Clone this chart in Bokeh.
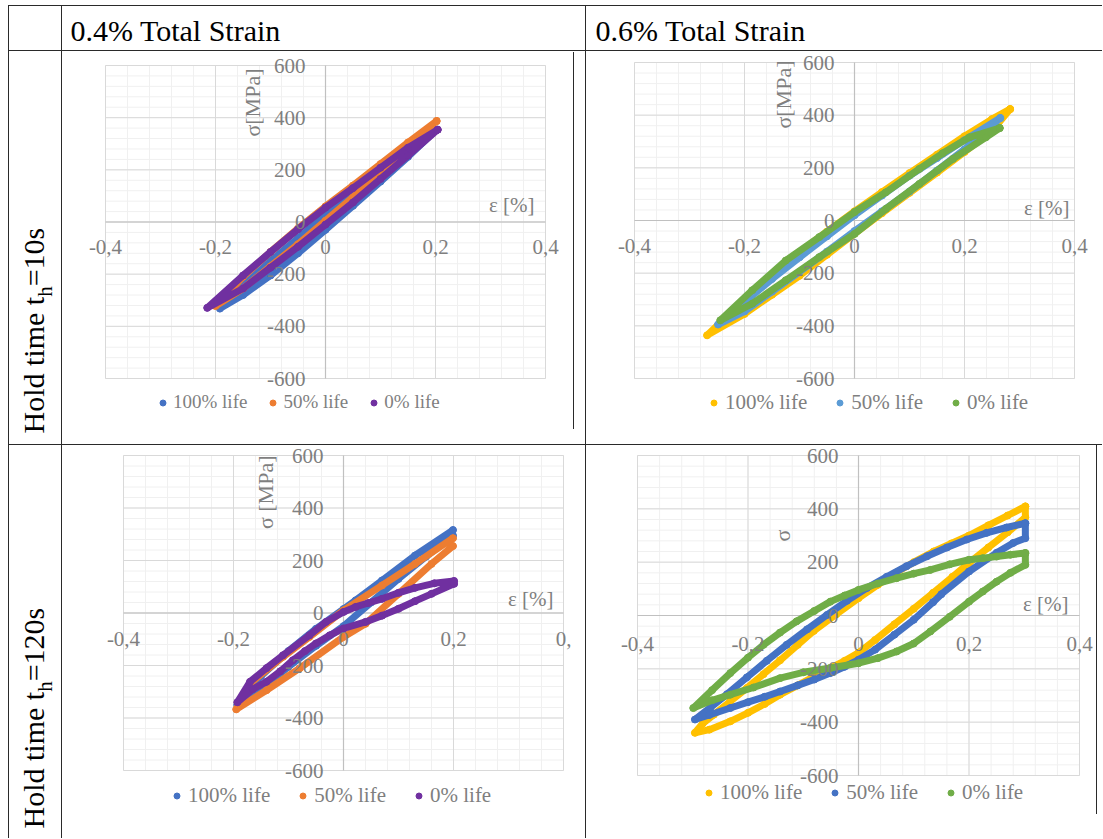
import math
from bokeh.plotting import figure
from bokeh.models import Range1d, Label, LabelSet, ColumnDataSource, Legend, LegendItem, Spacer
from bokeh.layouts import row, column
from bokeh.core.properties import value
from bokeh.embed import file_html
from bokeh.resources import INLINE

# ---------------- texts / tick labels ----------------
col_titles = ["0.4% Total Strain", "0.6% Total Strain"]
row_title_main = "Hold time t"
row_title_sub = "h"
row_title_ends = ["=10s", "=120s"]
series_names = ["100% life", "50% life", "0% life"]
x_ticks = [-0.4, -0.2, 0.0, 0.2, 0.4]
x_tick_labels = ["-0,4", "-0,2", "0", "0,2", "0,4"]
x_tick_labels_cut = ["-0,4", "-0,2", "0", "0,2", "0,"]
y_ticks = [600, 400, 200, 0, -200, -400, -600]
y_tick_labels = ["600", "400", "200", "0", "-200", "-400", "-600"]
x_minor = [round(-0.4 + 0.04 * k, 2) for k in range(21)]
y_minor = [-600 + 40 * k for k in range(31)]
x_title = "ε [%]"
y_titles = ["σ[MPa]", "σ[MPa]", "σ [MPa]", "σ"]

# ---------------- data (strain %, stress MPa) ----------------
# 0.4 % total strain, hold time 10 s
a_100_x = [0.200, 0.15, 0.10, 0.05, 0.00, -0.05, -0.10, -0.15, -0.192,
           -0.15, -0.10, -0.05, 0.00, 0.05, 0.10, 0.15, 0.200]
a_100_y = [350, 275, 195, 112, 25, -62, -150, -242, -332,
           -280, -205, -120, -30, 62, 155, 250, 350]
a_50_x = [0.202, 0.15, 0.10, 0.05, 0.00, -0.05, -0.10, -0.15, -0.200,
          -0.15, -0.10, -0.05, 0.00, 0.05, 0.10, 0.15, 0.202]
a_50_y = [387, 305, 222, 140, 60, -25, -115, -210, -322,
          -255, -170, -85, 5, 95, 190, 285, 387]
a_0_x = [0.204, 0.15, 0.10, 0.05, 0.00, -0.05, -0.10, -0.15, -0.215,
         -0.15, -0.10, -0.05, 0.00, 0.05, 0.10, 0.15, 0.204]
a_0_y = [354, 285, 208, 130, 55, -28, -115, -205, -329,
         -255, -175, -95, -10, 75, 165, 255, 354]

# 0.6 % total strain, hold time 10 s
b_100_x = [0.283, 0.25, 0.20, 0.15, 0.10, 0.05, 0.00, -0.05, -0.10, -0.15, -0.20, -0.268,
           -0.20, -0.15, -0.10, -0.05, 0.00, 0.05, 0.10, 0.15, 0.20, 0.25, 0.283]
b_100_y = [423, 385, 320, 250, 180, 108, 35, -42, -120, -205, -300, -436,
           -355, -282, -210, -130, -50, 28, 105, 182, 260, 340, 423]
b_50_x = [0.265, 0.20, 0.15, 0.10, 0.05, 0.00, -0.05, -0.10, -0.15, -0.20, -0.248,
          -0.20, -0.15, -0.10, -0.05, 0.00, 0.05, 0.10, 0.15, 0.20, 0.265]
b_50_y = [389, 305, 237, 170, 95, 20, -60, -140, -222, -310, -395,
          -345, -270, -195, -118, -40, 35, 110, 190, 270, 389]
b_0_x = [0.264, 0.209, 0.16, 0.118, 0.057, 0.00, -0.064, -0.125, -0.186, -0.244,
         -0.186, -0.125, -0.064, 0.00, 0.057, 0.118, 0.179, 0.239, 0.264]
b_0_y = [351, 316, 255, 196, 107, 32, -63, -152, -265, -379,
         -316, -227, -139, -51, 44, 139, 234, 316, 351]

# 0.4 % total strain, hold time 120 s
c_100_x = [0.199, 0.13, 0.07, 0.022, 0.00, -0.05, -0.10, -0.15, -0.193,
           -0.15, -0.10, -0.05, 0.00, 0.05, 0.10, 0.15, 0.199]
c_100_y = [316, 219, 124, 48, 15, -60, -145, -240, -350,
           -290, -205, -125, -50, 40, 130, 215, 295]
c_50_x = [0.199, 0.13, 0.07, 0.00, -0.062, -0.11, -0.17, -0.195,
          -0.14, -0.08, 0.00, 0.04, 0.10, 0.16, 0.199]
c_50_y = [285, 187, 105, 10, -91, -167, -268, -367,
          -294, -211, -91, -41, 73, 187, 255]
c_0_x = [0.201, 0.165, 0.13, 0.10, 0.07, 0.045, 0.022, 0.00, -0.032, -0.062, -0.11, -0.14,
         -0.17, -0.193, -0.165, -0.14, -0.115, -0.092, -0.07, -0.05, -0.025, 0.00, 0.04,
         0.07, 0.10, 0.13, 0.16, 0.201]
c_0_y = [122, 113, 96, 77, 54, 38, 23, 4, -34, -85, -161, -210,
         -262, -340, -290, -262, -222, -180, -145, -116, -85, -59, -34,
         -10, 16, 45, 73, 111]

# 0.6 % total strain, hold time 120 s
d_100_x = [0.302, 0.27, 0.235, 0.20, 0.168, 0.136, 0.10, 0.069, 0.035, 0.00, -0.04, -0.081,
           -0.11, -0.142, -0.172, -0.202, -0.232, -0.262, -0.282, -0.296,
           -0.27, -0.232, -0.20, -0.17, -0.142, -0.11, -0.08, -0.051, -0.025, 0.00, 0.03,
           0.065, 0.10, 0.135, 0.17, 0.20, 0.235, 0.27, 0.302, 0.302]
d_100_y = [409, 375, 338, 300, 270, 240, 200, 162, 115, 65, 5, -58,
           -110, -168, -220, -272, -322, -372, -405, -440,
           -428, -397, -365, -332, -297, -262, -228, -197, -170, -140, -92,
           -33, 25, 85, 145, 197, 255, 312, 368, 409]
d_50_x = [0.302, 0.268, 0.232, 0.196, 0.160, 0.124, 0.087, 0.051, 0.015, -0.021, -0.057,
          -0.093, -0.130, -0.166, -0.202, -0.238, -0.268, -0.296,
          -0.27, -0.232, -0.20, -0.17, -0.142, -0.11, -0.08, -0.051, -0.025, 0.00, 0.03,
          0.065, 0.10, 0.135, 0.15, 0.20, 0.25, 0.28, 0.302, 0.302]
d_50_y = [346, 330, 310, 285, 255, 222, 185, 145, 103, 55, 2,
          -52, -110, -170, -232, -295, -345, -390,
          -373, -347, -325, -305, -285, -262, -240, -216, -192, -166, -128,
          -72, -16, 50, 80, 165, 235, 272, 290, 346]
d_0_x = [0.302, 0.275, 0.25, 0.225, 0.20, 0.165, 0.13, 0.10, 0.069, 0.035, 0.00, -0.025,
         -0.051, -0.08, -0.112, -0.142, -0.172, -0.20, -0.232, -0.265, -0.299,
         -0.265, -0.232, -0.19, -0.142, -0.10, -0.051, 0.00, 0.035, 0.069, 0.10, 0.13,
         0.165, 0.20, 0.225, 0.25, 0.275, 0.302, 0.302]
d_0_y = [234, 228, 221, 215, 209, 192, 171, 157, 140, 120, 96, 75,
         52, 17, -22, -64, -110, -158, -216, -280, -347,
         -318, -297, -270, -235, -213, -197, -179, -160, -135, -105, -60,
         -5, 52, 90, 127, 160, 190, 234]

# ---------------- styling ----------------
FONT = "Liberation Serif"
GREY = "#7f7f7f"
TABLE = "#2a2a2a"
MAJOR = "#d9d9d9"
MINOR = "#f0f0f0"
AXIS = "#c0c0c0"
pal_a = ["#4472C4", "#ED7D31", "#7030A0"]
pal_b = ["#FFC000", "#5B9BD5", "#70AD47"]
pal_d = ["#FFC000", "#4472C4", "#70AD47"]

XMIN, XMAX = -0.4, 0.4
YMIN, YMAX = -600, 600


def span_range(lo, hi, cell, off_lo, size):
    per = (hi - lo) / size
    return Range1d(lo - off_lo * per, hi + (cell - off_lo - size) * per)


def panel(w, h, box, loops, colors, ytitle, yt, eps_off, xlabels, xl_off, leg):
    bl, bt, bw, bh = box  # data box inside the cell, px from cell's top-left
    xr = span_range(XMIN, XMAX, w, bl, bw)
    yr = span_range(YMIN, YMAX, h, h - bt - bh, bh)
    p = figure(width=w, height=h, x_range=xr, y_range=yr,
               x_axis_location=None, y_axis_location=None, toolbar_location=None,
               output_backend="svg", min_border=0, outline_line_color=None,
               background_fill_color="white", border_fill_color="white")
    p.xgrid.visible = False
    p.ygrid.visible = False

    # gridlines of the plot area
    p.segment(x0=x_minor, x1=x_minor, y0=[YMIN] * len(x_minor), y1=[YMAX] * len(x_minor),
              line_color=MINOR, line_width=1)
    p.segment(x0=[XMIN] * len(y_minor), x1=[XMAX] * len(y_minor), y0=y_minor, y1=y_minor,
              line_color=MINOR, line_width=1)
    p.segment(x0=x_ticks, x1=x_ticks, y0=[YMIN] * len(x_ticks), y1=[YMAX] * len(x_ticks),
              line_color=MAJOR, line_width=1)
    p.segment(x0=[XMIN] * len(y_ticks), x1=[XMAX] * len(y_ticks), y0=y_ticks, y1=y_ticks,
              line_color=MAJOR, line_width=1)
    # axes crossing at the origin
    p.segment(x0=[XMIN, 0], x1=[XMAX, 0], y0=[0, YMIN], y1=[0, YMAX],
              line_color=AXIS, line_width=1.2)

    items = []
    for (xs, ys), c, name in zip(loops, colors, series_names):
        p.line(xs, ys, line_width=7, line_color=c, line_join="round", line_cap="round")
        r = p.scatter(xs, ys, size=7, fill_color=c, line_color=c)
        items.append(LegendItem(label=name, renderers=[r]))

    sx = ColumnDataSource(dict(x=x_ticks, y=[0] * len(x_ticks), t=xlabels))
    p.add_layout(LabelSet(x="x", y="y", text="t", source=sx, y_offset=-xl_off,
                          text_align="center", text_baseline="middle",
                          text_font=value(FONT), text_font_size=value("21px"),
                          text_color=GREY))
    sy = ColumnDataSource(dict(x=[0] * len(y_ticks), y=y_ticks, t=y_tick_labels))
    p.add_layout(LabelSet(x="x", y="y", text="t", source=sy, x_offset=-20,
                          text_align="right", text_baseline="middle",
                          text_font=value(FONT), text_font_size=value("21px"),
                          text_color=GREY))
    yt_x, yt_y, yt_dy, yt_align = yt
    p.add_layout(Label(x=0, y=yt_y, x_offset=yt_x, y_offset=yt_dy, text=ytitle,
                       angle=math.pi / 2, text_align=yt_align, text_baseline="middle",
                       text_font=FONT, text_font_size="22px", text_color=GREY))
    p.add_layout(Label(x=XMAX, y=0, x_offset=eps_off[0], y_offset=eps_off[1], text=x_title,
                       text_align="right", text_baseline="middle",
                       text_font=FONT, text_font_size="21px", text_color=GREY))

    lx, ly, lfs, lstand, lspace = leg
    legend = Legend(items=items, orientation="horizontal", location=(lx, ly),
                    border_line_color=None, background_fill_alpha=0,
                    label_text_font=FONT, label_text_font_size=lfs, label_text_color=GREY,
                    glyph_width=15, glyph_height=15, label_standoff=lstand, spacing=lspace,
                    padding=0, margin=0)
    p.add_layout(legend, "center")
    return p


def blank(w, h):
    p = figure(width=w, height=h, x_range=Range1d(0, w), y_range=Range1d(0, h),
               x_axis_location=None, y_axis_location=None, toolbar_location=None,
               output_backend="svg", min_border=0, outline_line_color=None,
               background_fill_color="white", border_fill_color="white")
    p.xgrid.visible = False
    p.ygrid.visible = False
    return p


def header(w, h, text, x0):
    p = blank(w, h)
    p.add_layout(Label(x=x0, y=20, text=text, text_align="left", text_baseline="middle",
                       text_font=FONT, text_font_size="30px", text_color="black"))
    return p


def row_label(w, h, y0, end):
    p = blank(w, h)
    main_w = 136.7
    p.add_layout(Label(x=24, y=y0, text=row_title_main, angle=math.pi / 2,
                       text_align="left", text_baseline="middle",
                       text_font=FONT, text_font_size="30px", text_color="black"))
    p.add_layout(Label(x=35.5, y=y0 + main_w, text=row_title_sub, angle=math.pi / 2,
                       text_align="left", text_baseline="middle",
                       text_font=FONT, text_font_size="21px", text_color="black"))
    p.add_layout(Label(x=24, y=y0 + main_w + 10.5, text=end, angle=math.pi / 2,
                       text_align="left", text_baseline="middle",
                       text_font=FONT, text_font_size="30px", text_color="black"))
    return p


def vline(h):
    return Spacer(width=1, height=h, styles={"background-color": TABLE})


def hline(w):
    return Spacer(width=w, height=1, styles={"background-color": TABLE})


def gap(w, h):
    return Spacer(width=w, height=h)


W_C1, W_C2, W_C3 = 52, 523, 516
W_ALL = 1 + W_C1 + 1 + W_C2 + 1 + W_C3
H_HEAD, H_R1, H_R2 = 44, 393, 393

p1 = panel(511, H_R1, (43, 14, 440, 313),
           [(a_100_x, a_100_y), (a_50_x, a_50_y), (a_0_x, a_0_y)], pal_a,
           y_titles[0], (-73, 600, -3, "right"), (-11, 17), x_tick_labels, 25,
           (93, 31, "19px", 3, 18))
p2 = panel(W_C3, H_R1, (48, 11, 440, 316),
           [(b_100_x, b_100_y), (b_50_x, b_50_y), (b_0_x, b_0_y)], pal_b,
           y_titles[1], (-71, 600, 2, "right"), (-5, 13), x_tick_labels, 25,
           (120, 29, "21px", 4, 25))
p3 = panel(W_C2, H_R2, (61, 10, 440, 315),
           [(c_100_x, c_100_y), (c_50_x, c_50_y), (c_0_x, c_0_y)], pal_a,
           y_titles[2], (-78, 600, 0, "right"), (-10, 14), x_tick_labels_cut, 26,
           (107, 30, "21px", 4, 25))
p4 = panel(510, H_R2, (51, 10, 442, 320),
           [(d_100_x, d_100_y), (d_50_x, d_50_y), (d_0_x, d_0_y)], pal_d,
           y_titles[3], (-76, 300, 0, "center"), (-11, 12), x_tick_labels, 28,
           (115, 33, "21px", 4, 25))

cell_p1 = row(p1, column(gap(1, 1), vline(377), gap(1, H_R1 - 378)), gap(W_C2 - 512, H_R1))
cell_p4 = row(p4, column(vline(369), gap(1, H_R2 - 369)), gap(W_C3 - 511, H_R2))

table = column(
    hline(W_ALL),
    row(vline(H_HEAD), gap(W_C1, H_HEAD), vline(H_HEAD),
        header(W_C2, H_HEAD, col_titles[0], 8), vline(H_HEAD),
        header(W_C3, H_HEAD, col_titles[1], 9)),
    hline(W_ALL),
    row(vline(H_R1), row_label(W_C1, H_R1, 11, row_title_ends[0]), vline(H_R1),
        cell_p1, vline(H_R1), p2),
    hline(W_ALL),
    row(vline(H_R2), row_label(W_C1, H_R2, 10, row_title_ends[1]), vline(H_R2),
        p3, vline(H_R2), cell_p4),
)

page = column(gap(W_ALL + 8, 5), row(gap(8, 10), table))

open("out.html", "w").write(file_html(page, INLINE))
